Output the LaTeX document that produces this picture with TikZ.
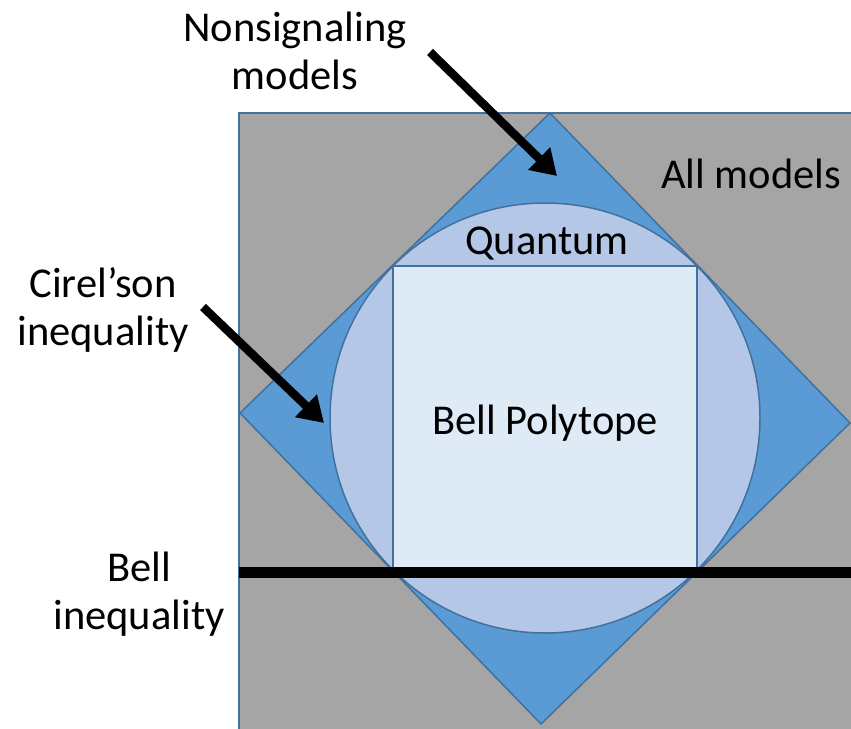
\documentclass[tikz,border=0pt]{standalone}
\usepackage{fontspec}
\setmainfont{Carlito}
\usetikzlibrary{arrows.meta}
\definecolor{edgeblue}{HTML}{41719C}
\definecolor{allgray}{HTML}{A5A5A5}
\definecolor{nsblue}{HTML}{5B9BD5}
\definecolor{qblue}{HTML}{B4C7E7}
\definecolor{bellblue}{HTML}{DEEBF7}
\tikzset{
  region/.style={draw=edgeblue, line width=1.5pt},
  lbl/.style={font=\fontsize{42.5}{48}\selectfont, align=center, anchor=base, inner sep=0pt},
  pointer/.style={line width=8.5pt, -{Triangle[length=25pt,width=30pt]}},
  bellline/.style={line width=11pt, black}
}
\begin{document}
\begin{tikzpicture}[x=1pt,y=-1pt]
\path[use as bounding box] (0,0) rectangle (851,728);
\clip (0,0) rectangle (851,728);
% all models
\draw[region, fill=allgray] (239,113) rectangle (880,760);
% nonsignaling diamond
\draw[region, fill=nsblue, line join=miter] (550,113) -- (850,423) -- (541,724) -- (240,413) -- cycle;
% quantum set
\draw[region, fill=qblue] (545,418) circle[radius=215];
% Bell polytope
\draw[region, fill=bellblue] (393,266) rectangle (697,570);
% Bell inequality line
\coordinate (bl) at (239,572);
\coordinate (br) at (860,572);
\draw[bellline] (bl) -- (br);
% labels (base = baseline of last line)
\node[lbl] (ns) at (295,89) {Nonsignaling\\models};
\node[lbl] (all) at (751,188) {All models};
\node[lbl] (q) at (547,254) {Quantum};
\node[lbl] (bp) at (545,434) {Bell Polytope};
\node[lbl] (cir) at (103,345) {Cirel’son\\inequality};
\node[lbl] (bell) at (139,629) {Bell\\inequality};
% arrows
\coordinate (a1s) at (430,52);
\coordinate (a1e) at (557,176);
\coordinate (a2s) at (203,307);
\coordinate (a2e) at (324,423);
\draw[pointer] (a1s) -- (a1e);
\draw[pointer] (a2s) -- (a2e);
\end{tikzpicture}
\end{document}
